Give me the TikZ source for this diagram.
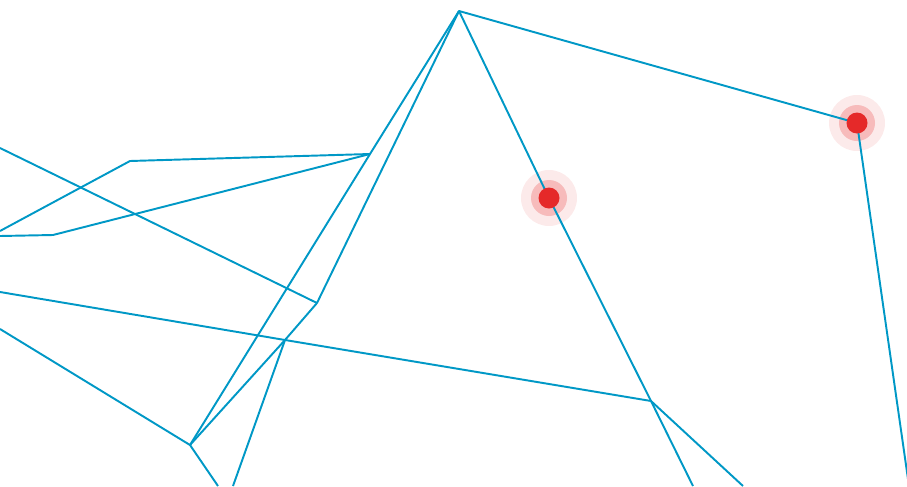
\documentclass[tikz,border=0pt]{standalone}
\usepackage{tikz}
\definecolor{wire}{RGB}{0,152,198}
\definecolor{pin}{RGB}{229,41,41}
\colorlet{pinhalo}{pin!32}
\colorlet{pinglow}{pin!10}
\tikzset{net/wire/.style={wire, line width=1.45pt, line join=round},
  net/glow/.style={fill=pinglow},
  net/halo/.style={fill=pinhalo},
  net/pin/.style={fill=pin}}

\begin{document}
\begin{tikzpicture}[x=0.75pt, y=-0.75pt]
  \useasboundingbox (0,0) rectangle (907,486);
  % vertices
  \coordinate (top) at (459,11);
  \coordinate (rpin) at (857,123);
  \coordinate (mpin) at (549,198);
  \coordinate (cross) at (651,401);
  \coordinate (a) at (370,154);
  \coordinate (b) at (130,161);
  \coordinate (c) at (53,235);
  \coordinate (d) at (317,303);
  \coordinate (e) at (190,445);
  \coordinate (f) at (285,340);
  % loose ends on the border
  \coordinate (l1) at (0,148);
  \coordinate (l2) at (0,231);
  \coordinate (l3) at (0,236);
  \coordinate (l4) at (0,292);
  \coordinate (l5) at (0,329);
  \coordinate (b1) at (218,486);
  \coordinate (b2) at (233,486);
  \coordinate (b3) at (693,486);
  \coordinate (b4) at (743,486);
  \coordinate (b5) at (909,486);

  \foreach \p in {mpin,rpin} {
    \fill[net/glow] (\p) circle (28);
    \fill[net/halo] (\p) circle (18);
  }

  \draw[net/wire] (l1) -- (d) -- (top) -- (rpin) -- (b5);
  \draw[net/wire] (top) -- (a) -- (e) -- (b1);
  \draw[net/wire] (l2) -- (b) -- (a);
  \draw[net/wire] (l3) -- (c) -- (a);
  \draw[net/wire] (d) -- (f) -- (e);
  \draw[net/wire] (f) -- (b2);
  \draw[net/wire] (l5) -- (e);
  \draw[net/wire] (l4) -- (f) -- (cross) -- (b4);
  \draw[net/wire] (top) -- (mpin) -- (cross) -- (b3);

  \foreach \p in {mpin,rpin} \fill[net/pin] (\p) circle (10.5);
\end{tikzpicture}
\end{document}
